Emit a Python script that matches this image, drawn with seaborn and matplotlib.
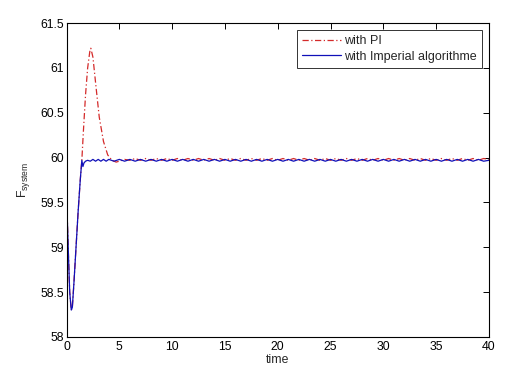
import numpy as np
import pandas as pd
import matplotlib
matplotlib.use("Agg")
import matplotlib.pyplot as plt
import seaborn as sns

# ---- data ----
t_pi = [0.0, 0.05, 0.2, 0.3, 0.45, 0.55, 0.7, 0.9, 1.1, 1.3, 1.45,
        1.6, 1.8, 2.0, 2.2, 2.3, 2.5, 2.8, 3.1, 3.5, 3.9, 4.3, 4.7, 5.0,
        5.5, 6.0, 6.5, 7.0, 7.5, 8.0, 8.5, 9.0, 9.5, 10.0, 10.5, 11.0, 11.5,
        12.0, 12.5, 13.0, 13.5, 14.0, 14.5, 15.0, 15.5, 16.0, 16.5, 17.0,
        17.5, 18.0, 18.5, 19.0, 19.5, 20.0, 20.5, 21.0, 21.5, 22.0, 22.5,
        23.0, 23.5, 24.0, 24.5, 25.0, 25.5, 26.0, 26.5, 27.0, 27.5, 28.0,
        28.5, 29.0, 29.5, 30.0, 30.5, 31.0, 31.5, 32.0, 32.5, 33.0, 33.5,
        34.0, 34.5, 35.0, 35.5, 36.0, 36.5, 37.0, 37.5, 38.0, 38.5, 39.0,
        39.5, 40.0]
f_pi = [59.65, 59.4, 58.85, 58.5, 58.3, 58.33, 58.6, 59.0, 59.4, 59.75, 59.97,
        60.3, 60.7, 61.0, 61.18, 61.22, 61.12, 60.78, 60.45, 60.18, 60.03, 59.97, 59.95, 59.96,
        59.98, 59.97, 59.99, 59.97, 59.99, 59.97, 59.99, 59.97, 59.99, 59.97, 59.99, 59.97, 59.99,
        59.97, 59.99, 59.97, 59.99, 59.97, 59.99, 59.97, 59.99, 59.97, 59.99, 59.97,
        59.99, 59.97, 59.99, 59.97, 59.99, 59.97, 59.99, 59.97, 59.99, 59.97, 59.99,
        59.97, 59.99, 59.97, 59.99, 59.97, 59.99, 59.97, 59.99, 59.97, 59.99, 59.97,
        59.99, 59.97, 59.99, 59.97, 59.99, 59.97, 59.99, 59.97, 59.99, 59.97, 59.99,
        59.97, 59.99, 59.97, 59.99, 59.97, 59.99, 59.97, 59.99, 59.97, 59.99, 59.97,
        59.99, 59.98]

t_imp = [0.0, 0.05, 0.2, 0.3, 0.45, 0.55, 0.7, 0.9, 1.1, 1.3, 1.45,
         1.55, 1.65, 1.8, 2.0, 2.25, 2.5, 2.75, 3.0, 3.25, 3.5, 3.75, 4.0,
         4.5, 5.0, 5.5, 6.0, 6.5, 7.0, 7.5, 8.0, 8.5, 9.0, 9.5, 10.0, 10.5,
         11.0, 11.5, 12.0, 12.5, 13.0, 13.5, 14.0, 14.5, 15.0, 15.5, 16.0,
         16.5, 17.0, 17.5, 18.0, 18.5, 19.0, 19.5, 20.0, 20.5, 21.0, 21.5,
         22.0, 22.5, 23.0, 23.5, 24.0, 24.5, 25.0, 25.5, 26.0, 26.5, 27.0,
         27.5, 28.0, 28.5, 29.0, 29.5, 30.0, 30.5, 31.0, 31.5, 32.0, 32.5,
         33.0, 33.5, 34.0, 34.5, 35.0, 35.5, 36.0, 36.5, 37.0, 37.5, 38.0,
         38.5, 39.0, 39.5, 40.0]
f_imp = [59.65, 59.4, 58.85, 58.5, 58.3, 58.33, 58.6, 59.0, 59.4, 59.75, 59.97,
         59.9, 59.94, 59.96, 59.97, 59.96, 59.98, 59.96, 59.98, 59.96, 59.98, 59.96, 59.98,
         59.96, 59.98, 59.96, 59.98, 59.96, 59.98, 59.96, 59.98, 59.96, 59.98, 59.96, 59.98, 59.96,
         59.98, 59.96, 59.98, 59.96, 59.98, 59.96, 59.98, 59.96, 59.98, 59.96, 59.98,
         59.96, 59.98, 59.96, 59.98, 59.96, 59.98, 59.96, 59.98, 59.96, 59.98, 59.96,
         59.98, 59.96, 59.98, 59.96, 59.98, 59.96, 59.98, 59.96, 59.98, 59.96, 59.98,
         59.96, 59.98, 59.96, 59.98, 59.96, 59.98, 59.96, 59.98, 59.96, 59.98, 59.96,
         59.98, 59.96, 59.98, 59.96, 59.98, 59.96, 59.98, 59.96, 59.98, 59.96, 59.98,
         59.96, 59.98, 59.96, 59.97]

series_labels = ["with PI", "with Imperial algorithme"]
x_ticks = [0, 5, 10, 15, 20, 25, 30, 35, 40]
y_ticks = [58, 58.5, 59, 59.5, 60, 60.5, 61, 61.5]
y_tick_labels = ["58", "58.5", "59", "59.5", "60", "60.5", "61", "61.5"]

# ---- style ----
sns.set_style("white")
plt.rcParams["font.family"] = ["Liberation Sans", "DejaVu Sans"]
plt.rcParams["mathtext.fontset"] = "custom"
plt.rcParams["mathtext.rm"] = "Liberation Sans"

fig = plt.figure(figsize=(5.28, 3.79), dpi=100)
ax = fig.add_axes([0.126, 0.111, 0.8, 0.828])

df_pi = pd.DataFrame({"time": t_pi, "F": f_pi})
df_imp = pd.DataFrame({"time": t_imp, "F": f_imp})

sns.lineplot(data=df_pi, x="time", y="F", ax=ax, color="#d42a2a",
             linewidth=0.9, linestyle=(0, (5, 2, 1, 2)), label=series_labels[0],
             estimator=None, sort=False)
sns.lineplot(data=df_imp, x="time", y="F", ax=ax, color="#1010b8",
             linewidth=0.9, label=series_labels[1],
             estimator=None, sort=False)

ax.set_xlim(0, 40)
ax.set_ylim(58, 61.5)
ax.set_xticks(x_ticks)
ax.set_xticklabels([str(v) for v in x_ticks])
ax.set_yticks(y_ticks)
ax.set_yticklabels(y_tick_labels)
ax.tick_params(direction="in", length=4.5, width=0.7, labelsize=8.8,
               top=True, right=True, colors="black", pad=2)
ax.tick_params(axis="x", pad=3)
for s in ax.spines.values():
    s.set_color("black")
    s.set_linewidth(0.8)

ax.set_xlabel("time", fontsize=8.8, labelpad=1)
ax.set_ylabel(r"F$_{\mathrm{system}}$", fontsize=8.8, labelpad=6)

leg = ax.legend(loc="upper right", fontsize=9, frameon=True, fancybox=False,
                handlelength=3.1, handletextpad=0.3, borderpad=0.4,
                labelspacing=0.3, borderaxespad=0.55)
leg.get_frame().set_edgecolor("black")
leg.get_frame().set_linewidth(0.7)

fig.savefig("out.png", dpi=100)
